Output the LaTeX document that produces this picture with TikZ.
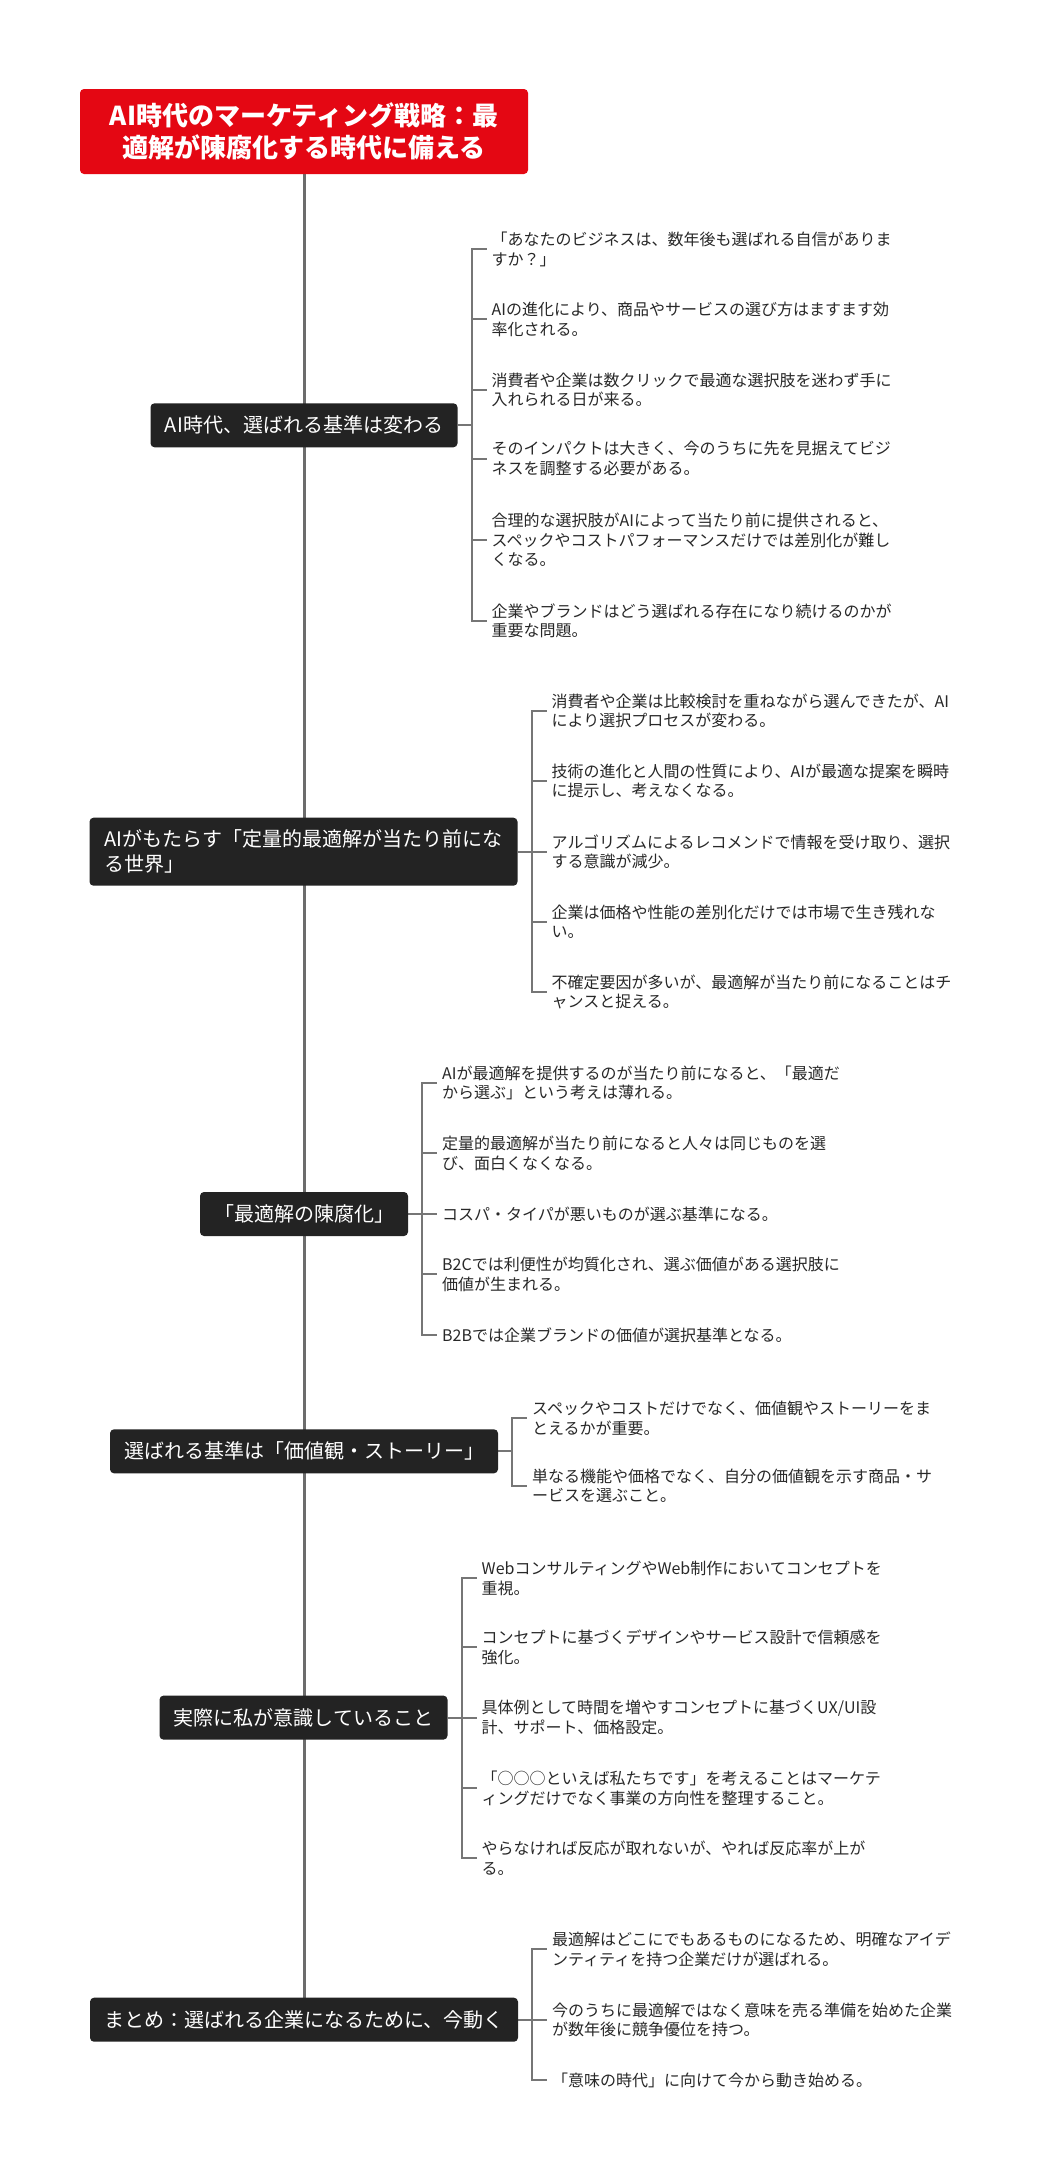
\documentclass[tikz,border=0pt]{standalone}
\usepackage{fontspec}
\newfontfamily\cjk{Noto Sans CJK JP}
\pgfdeclarelayer{bg}
\pgfsetlayers{bg,main}
\definecolor{rootred}{RGB}{228,7,19}
\definecolor{boxdark}{RGB}{35,35,35}
\definecolor{trunkgray}{RGB}{108,108,108}
\definecolor{brgray}{RGB}{118,118,118}
\definecolor{leafgray}{RGB}{40,40,40}
\begin{document}
\begin{tikzpicture}[x=1pt,y=-1pt,
  rootbox/.style={fill=rootred, rounded corners=4pt, text=white,
    font=\cjk\bfseries\fontsize{26}{32}\selectfont, align=center,
    minimum width=448pt, minimum height=85pt, inner sep=0pt},
  branchbox/.style={fill=boxdark, rounded corners=4pt, text=white,
    font=\cjk\fontsize{20}{25}\selectfont, minimum height=44pt, inner sep=0pt},
  leaf/.style={anchor=west, align=left, text=leafgray,
    font=\cjk\fontsize{16}{19.5}\selectfont, inner xsep=5pt, inner ysep=0pt},
  trunk/.style={draw=trunkgray, line width=3pt},
  bracket/.style={draw=brgray, line width=2pt},
]
\useasboundingbox (0,0) rectangle (1047,2176);

% root
\node[rootbox] (root) at (304,131.5) {AI時代のマーケティング戦略：最\\適解が陳腐化する時代に備える};

% branches
\node[branchbox, minimum width=307pt] (b1) at (304,425.3) {AI時代、選ばれる基準は変わる};
\node[branchbox, minimum width=428pt, minimum height=68pt, align=left] (b2) at (303.5,851.7) {AIがもたらす「定量的最適解が当たり前にな\\る世界」};
\node[branchbox, minimum width=208pt] (b3) at (304,1214) {「最適解の陳腐化」};
\node[branchbox, minimum width=388pt] (b4) at (304,1451.3) {選ばれる基準は「価値観・ストーリー」};
\node[branchbox, minimum width=288pt] (b5) at (303.5,1717.6) {実際に私が意識していること};
\node[branchbox, minimum width=428pt] (b6) at (304,2019.7) {まとめ：選ばれる企業になるために、今動く};

\coordinate (j1) at ([xshift=14pt]b1.east);
\coordinate (j2) at ([xshift=14pt]b2.east);
\coordinate (j3) at ([xshift=14pt]b3.east);
\coordinate (j4) at ([xshift=14pt]b4.east);
\coordinate (j5) at ([xshift=14pt]b5.east);
\coordinate (j6) at ([xshift=14pt]b6.east);

% leaves of b1
\node[leaf] (l11) at (486.5,249.3) {「あなたのビジネスは、数年後も選ばれる自信がありま\\すか？」};
\node[leaf] (l12) at (486.5,319.3) {AIの進化により、商品やサービスの選び方はますます効\\率化される。};
\node[leaf] (l13) at (486.5,390) {消費者や企業は数クリックで最適な選択肢を迷わず手に\\入れられる日が来る。};
\node[leaf] (l14) at (486.5,458.5) {そのインパクトは大きく、今のうちに先を見据えてビジ\\ネスを調整する必要がある。};
\node[leaf] (l15) at (486.5,540) {合理的な選択肢がAIによって当たり前に提供されると、\\スペックやコストパフォーマンスだけでは差別化が難し\\くなる。};
\node[leaf] (l16) at (486.5,620.7) {企業やブランドはどう選ばれる存在になり続けるのかが\\重要な問題。};

% leaves of b2
\node[leaf] (l21) at (546.5,710.7) {消費者や企業は比較検討を重ねながら選んできたが、AI\\により選択プロセスが変わる。};
\node[leaf] (l22) at (546.5,780.7) {技術の進化と人間の性質により、AIが最適な提案を瞬時\\に提示し、考えなくなる。};
\node[leaf] (l23) at (546.5,851.7) {アルゴリズムによるレコメンドで情報を受け取り、選択\\する意識が減少。};
\node[leaf] (l24) at (546.5,921.7) {企業は価格や性能の差別化だけでは市場で生き残れな\\い。};
\node[leaf] (l25) at (546.5,991.7) {不確定要因が多いが、最適解が当たり前になることはチ\\ャンスと捉える。};

% leaves of b3
\node[leaf] (l31) at (437,1082.7) {AIが最適解を提供するのが当たり前になると、「最適だ\\から選ぶ」という考えは薄れる。};
\node[leaf] (l32) at (437,1153.3) {定量的最適解が当たり前になると人々は同じものを選\\び、面白くなくなる。};
\node[leaf] (l33) at (437,1214) {コスパ・タイパが悪いものが選ぶ基準になる。};
\node[leaf] (l34) at (437,1274.3) {B2Cでは利便性が均質化され、選ぶ価値がある選択肢に\\価値が生まれる。};
\node[leaf] (l35) at (437,1335) {B2Bでは企業ブランドの価値が選択基準となる。};

% leaves of b4
\node[leaf] (l41) at (527,1418.3) {スペックやコストだけでなく、価値観やストーリーをま\\とえるかが重要。};
\node[leaf] (l42) at (527,1486) {単なる機能や価格でなく、自分の価値観を示す商品・サ\\ービスを選ぶこと。};

% leaves of b5
\node[leaf] (l51) at (476.5,1578.3) {WebコンサルティングやWeb制作においてコンセプトを\\重視。};
\node[leaf] (l52) at (476.5,1647.3) {コンセプトに基づくデザインやサービス設計で信頼感を\\強化。};
\node[leaf] (l53) at (476.5,1717.6) {具体例として時間を増やすコンセプトに基づくUX/UI設\\計、サポート、価格設定。};
\node[leaf] (l54) at (476.5,1788.3) {「○○○といえば私たちです」を考えることはマーケテ\\ィングだけでなく事業の方向性を整理すること。};
\node[leaf] (l55) at (476.5,1858.3) {やらなければ反応が取れないが、やれば反応率が上が\\る。};

% leaves of b6
\node[leaf] (l61) at (547,1949.3) {最適解はどこにでもあるものになるため、明確なアイデ\\ンティティを持つ企業だけが選ばれる。};
\node[leaf] (l62) at (547,2019.7) {今のうちに最適解ではなく意味を売る準備を始めた企業\\が数年後に競争優位を持つ。};
\node[leaf] (l63) at (547,2080) {「意味の時代」に向けて今から動き始める。};

\begin{pgfonlayer}{bg}
\fill[white] (0,0) rectangle (1047,2176);
\draw[trunk] (root.south) -- (b6.north);
\draw[bracket] (b1.east) -- (j1);
\foreach \l in {l11,l12,l13,l14,l15,l16} \draw[bracket] (j1) |- (\l.west);
\draw[bracket] (b2.east) -- (j2);
\foreach \l in {l21,l22,l23,l24,l25} \draw[bracket] (j2) |- (\l.west);
\draw[bracket] (b3.east) -- (j3);
\foreach \l in {l31,l32,l33,l34,l35} \draw[bracket] (j3) |- (\l.west);
\draw[bracket] (b4.east) -- (j4);
\foreach \l in {l41,l42} \draw[bracket] (j4) |- (\l.west);
\draw[bracket] (b5.east) -- (j5);
\foreach \l in {l51,l52,l53,l54,l55} \draw[bracket] (j5) |- (\l.west);
\draw[bracket] (b6.east) -- (j6);
\foreach \l in {l61,l62,l63} \draw[bracket] (j6) |- (\l.west);
\end{pgfonlayer}
\end{tikzpicture}
\end{document}
